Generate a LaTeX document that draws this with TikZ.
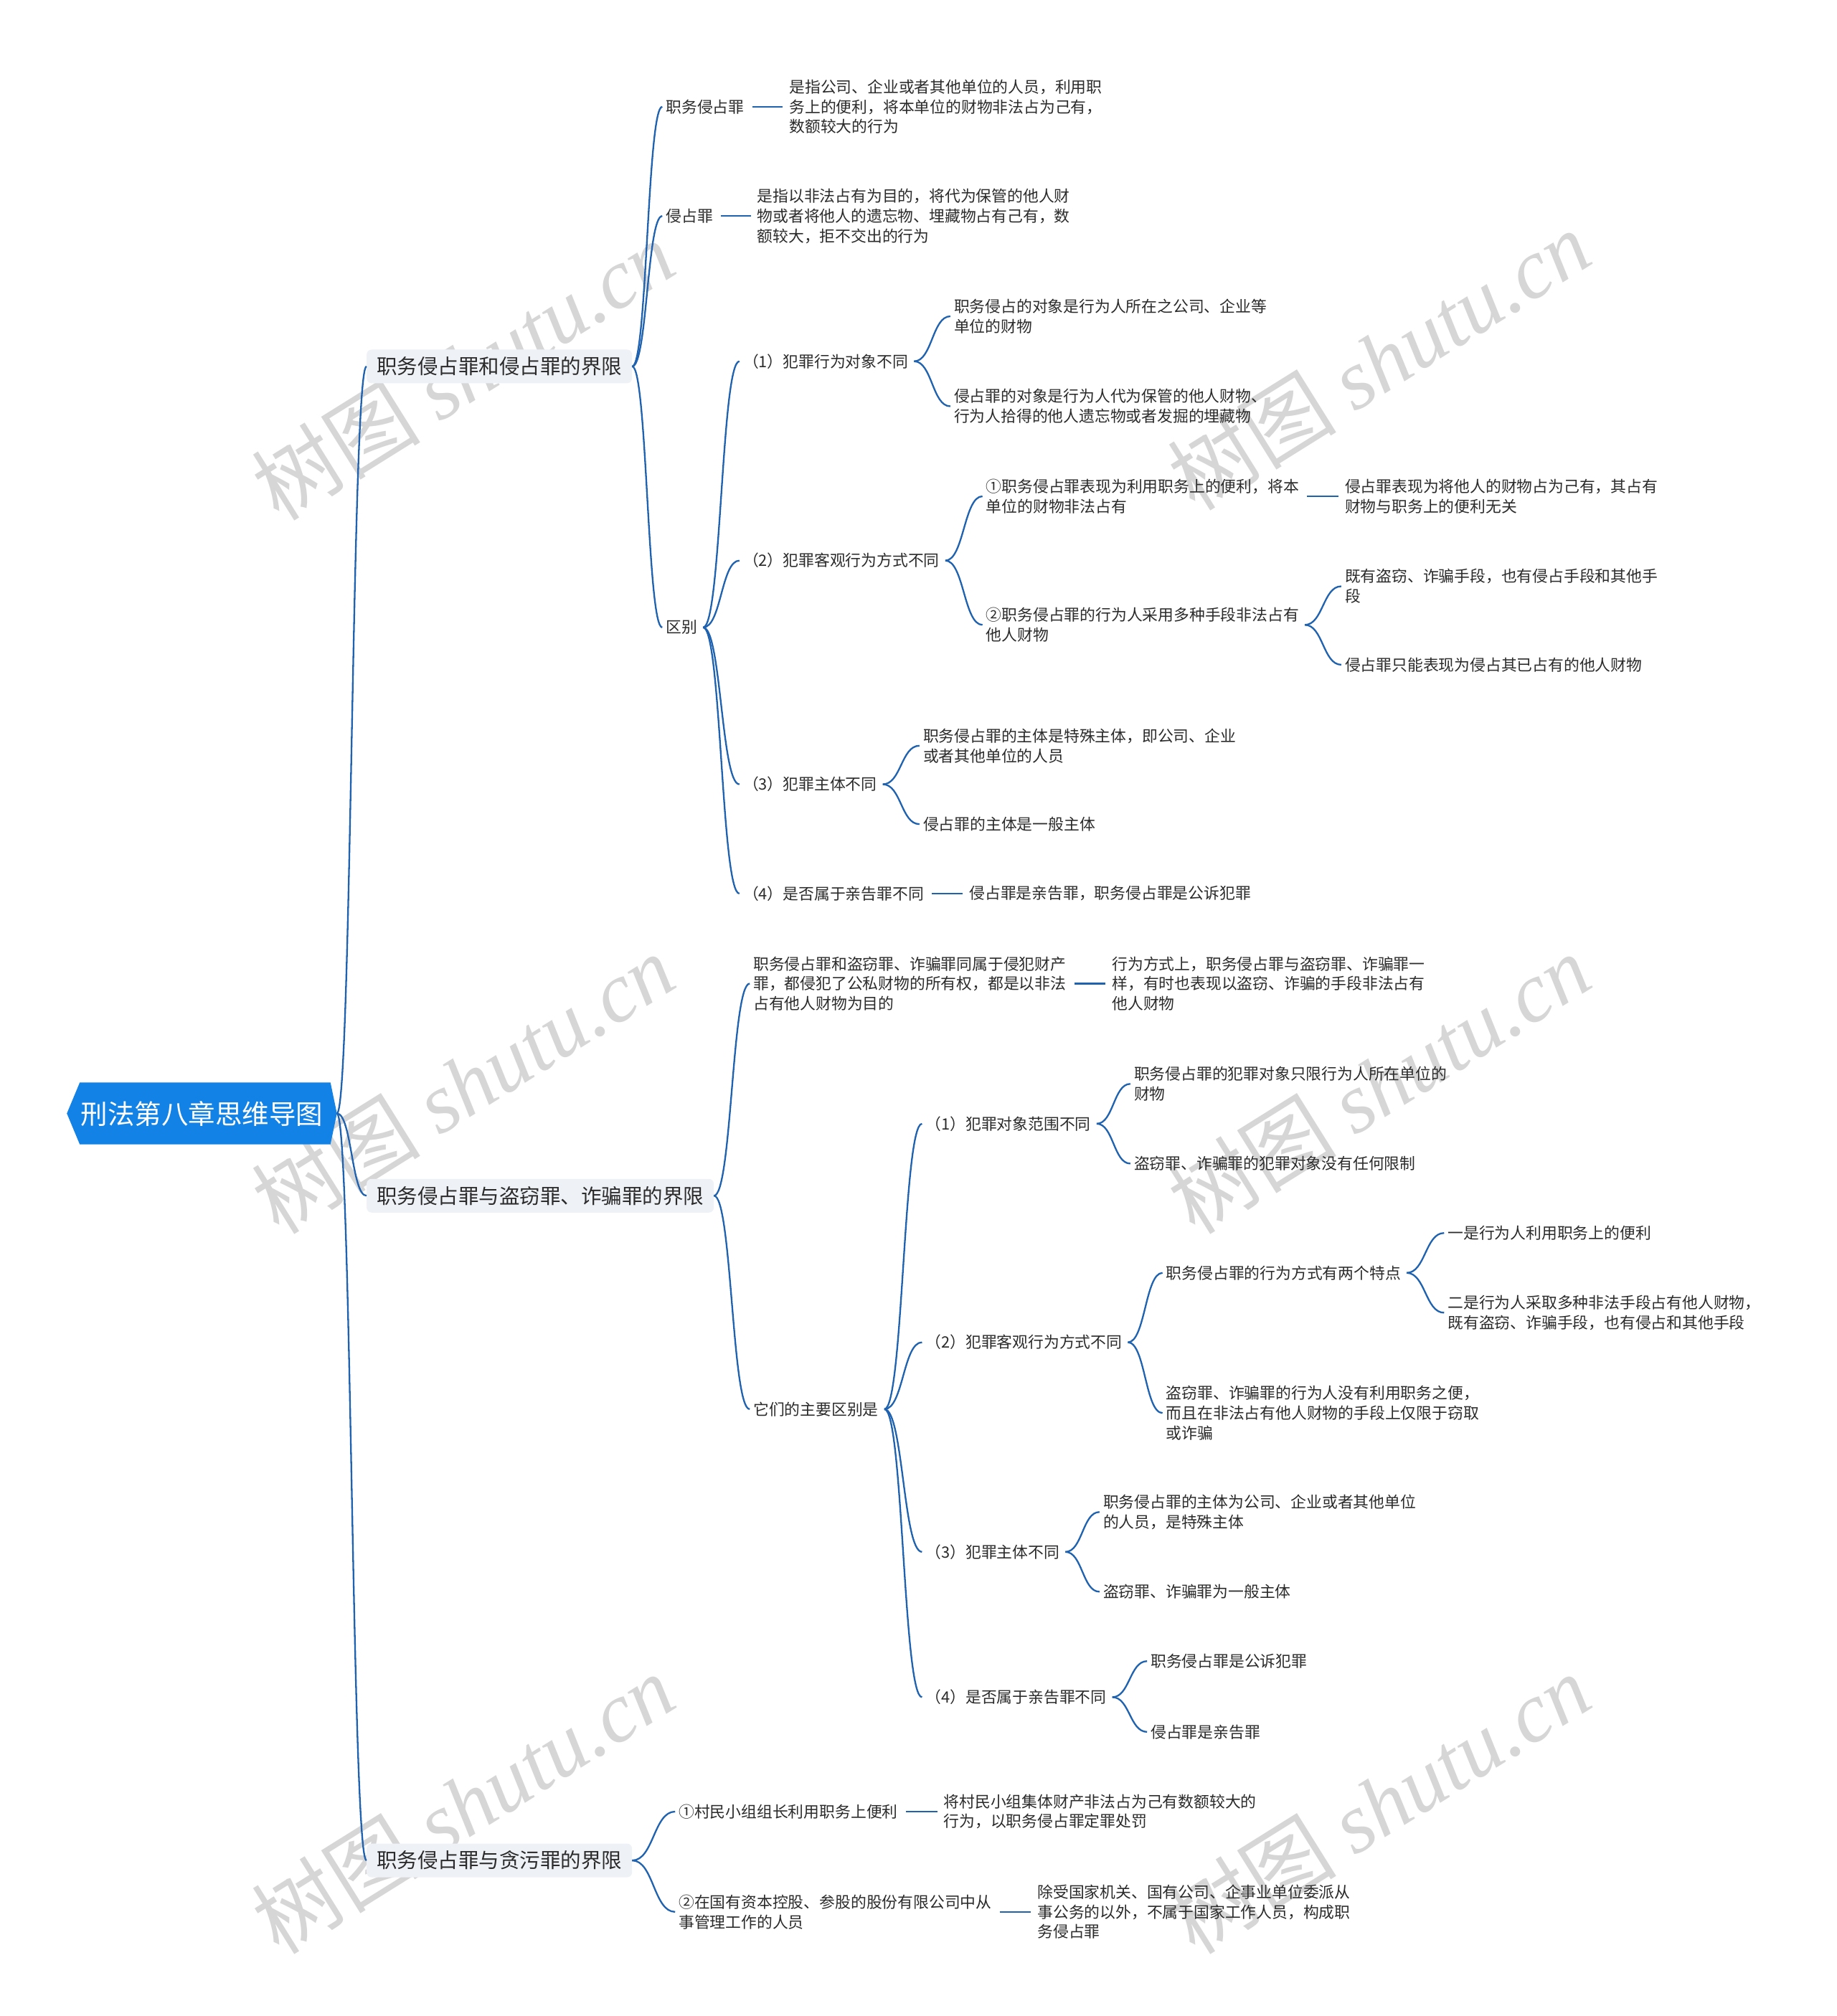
\documentclass[tikz,border=0pt]{standalone}
\usepackage{fontspec}
\setmainfont{Noto Sans CJK SC}
\newfontfamily\wmlatin{Liberation Serif}
\usetikzlibrary{calc}
\definecolor{linkc}{HTML}{1E62B0}
\definecolor{rootc}{HTML}{1282E6}
\definecolor{lonec}{HTML}{EEF1F5}
\definecolor{txtc}{HTML}{2B2B2B}
\definecolor{wmc}{HTML}{D6D6D6}
\tikzset{
 leaf/.style={anchor=west, inner xsep=5pt, inner ysep=2pt, align=left, text=txtc, font=\fontsize{21.8pt}{27.8pt}\selectfont},
 lone/.style={anchor=west, fill=lonec, rounded corners=7pt, inner xsep=14pt, minimum height=47pt, text=txtc, font=\fontsize{28.5pt}{34pt}\selectfont},
 rootn/.style={minimum width=376pt, minimum height=86pt, inner sep=0pt, text=white, font=\fontsize{37.5pt}{42pt}\selectfont},
 lnk/.style={draw=linkc, line width=2.3pt},
 wmark/.style={text=wmc, rotate=32, font=\fontsize{118pt}{128pt}\selectfont},
}
\newcommand\curvelink[2]{\draw[lnk] let \p1=(#1), \p2=(#2), \n1={(\x1+\x2)/2} in (\p1) .. controls (\n1,\y1) and (\n1,\y2) .. (\p2);}
\newcommand\straightlink[2]{\draw[lnk] ([xshift=6pt]#1.east) -- ([xshift=-4pt]#2.west);}
\begin{document}
\begin{tikzpicture}[x=1.7927pt, y=-1.7927pt]
\useasboundingbox (0,0) rectangle (1428,1568);
\fill[white] (0,0) rectangle (1428,1568);

% watermarks
\foreach \wx/\wy [count=\i] in {360/288, 1072/280, 360/843, 1072/843, 360/1403, 1072/1403}
  \node[wmark] (wm\i) at (\wx,\wy) {树图 {\wmlatin\itshape shutu.cn}};

% root
\fill[rootc] (62,842) -- (257,842) -- (262,866) -- (257,890) -- (62,890) -- (52,866) -- cycle;
\node[rootn] (root) at (157,866) {刑法第八章思维导图};

% level 1
\node[lone] (A) at (285,285) {职务侵占罪和侵占罪的界限};
\node[lone] (B) at (285,930) {职务侵占罪与盗窃罪、诈骗罪的界限};
\node[lone] (C) at (285,1447) {职务侵占罪与贪污罪的界限};

% branch A
\node[leaf] (a1) at (515,83) {职务侵占罪};
\node[leaf] (a1c) at (611,83) {是指公司、企业或者其他单位的人员，利用职\\务上的便利，将本单位的财物非法占为己有，\\数额较大的行为};
\node[leaf] (a2) at (515,168) {侵占罪};
\node[leaf] (a2c) at (586,168) {是指以非法占有为目的，将代为保管的他人财\\物或者将他人的遗忘物、埋藏物占有己有，数\\额较大，拒不交出的行为};
\node[leaf] (a3) at (515,488) {区别};
\node[leaf] (b1) at (575,281) {（1）犯罪行为对象不同};
\node[leaf] (c1) at (739,246) {职务侵占的对象是行为人所在之公司、企业等\\单位的财物};
\node[leaf] (c2) at (739,316) {侵占罪的对象是行为人代为保管的他人财物、\\行为人拾得的他人遗忘物或者发掘的埋藏物};
\node[leaf] (b2) at (575,436) {（2）犯罪客观行为方式不同};
\node[leaf] (c3) at (764,386) {①职务侵占罪表现为利用职务上的便利，将本\\单位的财物非法占有};
\node[leaf] (c3c) at (1043,386) {侵占罪表现为将他人的财物占为己有，其占有\\财物与职务上的便利无关};
\node[leaf] (c4) at (764,486) {②职务侵占罪的行为人采用多种手段非法占有\\他人财物};
\node[leaf] (d1) at (1043,456) {既有盗窃、诈骗手段，也有侵占手段和其他手\\段};
\node[leaf] (d2) at (1043,517) {侵占罪只能表现为侵占其已占有的他人财物};
\node[leaf] (b3) at (575,610) {（3）犯罪主体不同};
\node[leaf] (c5) at (715,580) {职务侵占罪的主体是特殊主体，即公司、企业\\或者其他单位的人员};
\node[leaf] (c6) at (715,641) {侵占罪的主体是一般主体};
\node[leaf] (b4) at (575,695) {（4）是否属于亲告罪不同};
\node[leaf] (c7) at (751,695) {侵占罪是亲告罪，职务侵占罪是公诉犯罪};

% branch B
\node[leaf] (e1) at (583,765) {职务侵占罪和盗窃罪、诈骗罪同属于侵犯财产\\罪，都侵犯了公私财物的所有权，都是以非法\\占有他人财物为目的};
\node[leaf] (e1c) at (862,765) {行为方式上，职务侵占罪与盗窃罪、诈骗罪一\\样，有时也表现以盗窃、诈骗的手段非法占有\\他人财物};
\node[leaf] (e2) at (583,1096) {它们的主要区别是};
\node[leaf] (f1) at (717,874) {（1）犯罪对象范围不同};
\node[leaf] (g1) at (879,843) {职务侵占罪的犯罪对象只限行为人所在单位的\\财物};
\node[leaf] (g2) at (879,905) {盗窃罪、诈骗罪的犯罪对象没有任何限制};
\node[leaf] (f2) at (717,1044) {（2）犯罪客观行为方式不同};
\node[leaf] (g3) at (904,990) {职务侵占罪的行为方式有两个特点};
\node[leaf] (h1) at (1123,959) {一是行为人利用职务上的便利};
\node[leaf] (h2) at (1123,1021) {二是行为人采取多种非法手段占有他人财物，\\既有盗窃、诈骗手段，也有侵占和其他手段};
\node[leaf] (g4) at (904,1099) {盗窃罪、诈骗罪的行为人没有利用职务之便，\\而且在非法占有他人财物的手段上仅限于窃取\\或诈骗};
\node[leaf] (f3) at (717,1207) {（3）犯罪主体不同};
\node[leaf] (g5) at (855,1176) {职务侵占罪的主体为公司、企业或者其他单位\\的人员，是特殊主体};
\node[leaf] (g6) at (855,1238) {盗窃罪、诈骗罪为一般主体};
\node[leaf] (f4) at (717,1320) {（4）是否属于亲告罪不同};
\node[leaf] (g7) at (892,1292) {职务侵占罪是公诉犯罪};
\node[leaf] (g8) at (892,1347) {侵占罪是亲告罪};

% branch C
\node[leaf] (k1) at (525,1409) {①村民小组组长利用职务上便利};
\node[leaf] (k1c) at (731,1409) {将村民小组集体财产非法占为己有数额较大的\\行为，以职务侵占罪定罪处罚};
\node[leaf] (k2) at (525,1487) {②在国有资本控股、参股的股份有限公司中从\\事管理工作的人员};
\node[leaf] (k2c) at (804,1487) {除受国家机关、国有公司、企事业单位委派从\\事公务的以外，不属于国家工作人员，构成职\\务侵占罪};

% connectors
\foreach \nd in {A,B,C} {\curvelink{root.east}{\nd.west}}
\foreach \nd in {a1,a2,a3} {\curvelink{A.east}{\nd.west}}
\straightlink{a1}{a1c}
\straightlink{a2}{a2c}
\foreach \nd in {b1,b2,b3,b4} {\curvelink{[xshift=3pt]a3.east}{\nd.west}}
\foreach \nd in {c1,c2} {\curvelink{[xshift=3pt]b1.east}{\nd.west}}
\foreach \nd in {c3,c4} {\curvelink{[xshift=3pt]b2.east}{\nd.west}}
\straightlink{c3}{c3c}
\foreach \nd in {d1,d2} {\curvelink{[xshift=3pt]c4.east}{\nd.west}}
\foreach \nd in {c5,c6} {\curvelink{[xshift=3pt]b3.east}{\nd.west}}
\straightlink{b4}{c7}
\foreach \nd in {e1,e2} {\curvelink{B.east}{\nd.west}}
\straightlink{e1}{e1c}
\foreach \nd in {f1,f2,f3,f4} {\curvelink{[xshift=3pt]e2.east}{\nd.west}}
\foreach \nd in {g1,g2} {\curvelink{[xshift=3pt]f1.east}{\nd.west}}
\foreach \nd in {g3,g4} {\curvelink{[xshift=3pt]f2.east}{\nd.west}}
\foreach \nd in {h1,h2} {\curvelink{[xshift=3pt]g3.east}{\nd.west}}
\foreach \nd in {g5,g6} {\curvelink{[xshift=3pt]f3.east}{\nd.west}}
\foreach \nd in {g7,g8} {\curvelink{[xshift=3pt]f4.east}{\nd.west}}
\foreach \nd in {k1,k2} {\curvelink{C.east}{\nd.west}}
\straightlink{k1}{k1c}
\straightlink{k2}{k2c}
\end{tikzpicture}
\end{document}
